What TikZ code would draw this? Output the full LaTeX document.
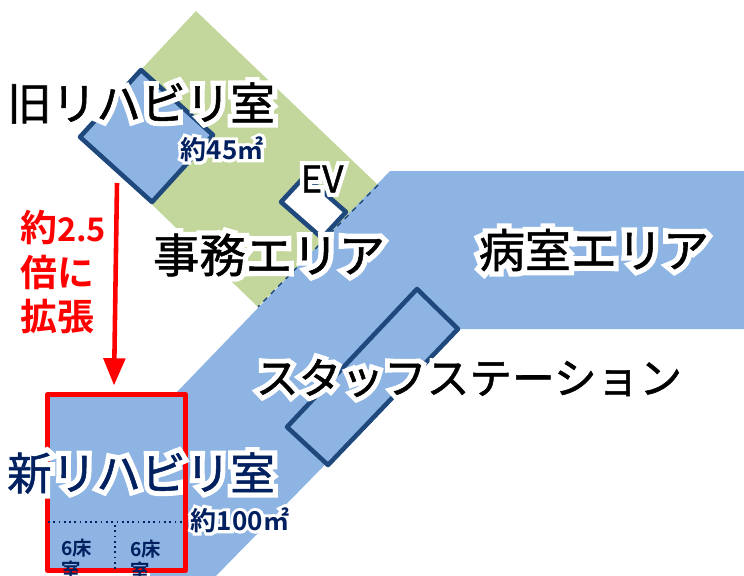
\documentclass[tikz,border=0pt]{standalone}
\usepackage{fontspec}
\usepackage{xcolor}
\usetikzlibrary{arrows}
\setmainfont{Noto Sans CJK JP}
\newfontfamily\labelface[FakeBold=1.2]{Noto Sans CJK JP}
\newfontfamily\haloface[FakeBold=24]{Noto Sans CJK JP}
\newfontfamily\halobold[FakeBold=24]{Noto Sans CJK JP Bold}
\newfontfamily\boldface{Noto Sans CJK JP Bold}
\definecolor{wardblue}{HTML}{8EB4E3}
\definecolor{officegreen}{HTML}{C3D69B}
\definecolor{wallblue}{HTML}{1F497D}
\definecolor{labelnavy}{HTML}{002060}
\newcommand{\halotext}[1]{\rlap{\color{white}\haloface #1}{\labelface #1}}
\newcommand{\halosmall}[1]{\rlap{\color{white}\halobold #1}{\boldface #1}}
\tikzset{
  biglabel/.style = {inner sep = 0pt, font = \fontsize{25.4}{31}\selectfont},
  arealabel/.style = {inner sep = 0pt, text = labelnavy, font = \fontsize{14.8}{18}\selectfont},
  bedlabel/.style = {inner sep = 0pt, text = labelnavy, align = left, font = \boldface\fontsize{11}{12.5}\selectfont},
  wall/.style = {draw = wallblue, line width = 2.6pt, line join = round},
  partition/.style = {draw = labelnavy, line width = 1pt, dotted}
}

\begin{document}
\begin{tikzpicture}[x = 0.02cm, y = -0.02cm]
\clip (0, 0) rectangle (744, 575) ;
\fill[officegreen] (196, 11) -- (378, 185) -- (258, 307) -- (80, 135) -- cycle ;
\fill[wardblue] (390, 171) -- (744, 171) -- (744, 329) -- (458, 329) -- (212, 580) -- (150, 580) -- (150, 420) -- cycle ;
\draw[wallblue, line width = 0.8pt, dashed] (378, 185) -- (258, 307) ;
\draw[wall, fill = wardblue] (141, 70) -- (213, 135) -- (152, 202) -- (80, 137) -- cycle ;
\draw[wall, fill = white] (305, 176) -- (346, 212) -- (322, 238) -- (281, 202) -- cycle ;
\draw[wall] (417, 289) -- (458, 329) -- (328, 465) -- (287, 427) -- cycle ;
\draw[red, fill = wardblue, line width = 2.8pt, line join = round] (47.5, 394.5) rectangle (185.5, 570.5) ;
\coordinate(roomtop) at (48, 522) ;
\coordinate(roomright) at (184, 522) ;
\coordinate(bedtop) at (115, 525) ;
\coordinate(bedbottom) at (115, 569) ;
\draw[partition] (roomtop) -- (roomright) ;
\draw[partition] (bedtop) -- (bedbottom) ;
\coordinate(movestart) at (117, 183) ;
\coordinate(moveend) at (114, 385) ;
\draw[-triangle 45, red, line width = 2.6pt] (movestart) to (moveend) ;
\node(oldroom) at (141, 103) [biglabel] {\halotext{旧リハビリ室}} ;
\node(oldarea) at (222, 149) [arealabel] {\halosmall{約45㎡}} ;
\node(ev) at (322, 179) [biglabel, font = \fontsize{21}{25}\selectfont] {\halotext{EV}} ;
\node(office) at (269, 255) [biglabel, font = \fontsize{26.4}{31}\selectfont] {\halotext{事務エリア}} ;
\node(ward) at (594, 250) [biglabel, font = \fontsize{26.2}{31}\selectfont] {\halotext{病室エリア}} ;
\node(station) at (469, 378) [biglabel, font = \fontsize{24.3}{29}\selectfont] {\halotext{スタッフステーション}} ;
\node(newroom) at (141, 473) [biglabel, text = labelnavy] {\halotext{新リハビリ室}} ;
\node(newarea) at (240, 520) [arealabel] {\halosmall{約100㎡}} ;
\node(ratio) at (20, 272) [anchor = west, inner sep = 0pt, text = red, align = left, font = \boldface\fontsize{21}{25.5}\selectfont] {約{\fontsize{18.5}{25.5}\selectfont 2.5}\\倍に\\拡張} ;
\node(bedleft) at (61, 559) [bedlabel, anchor = west] {6床\\室} ;
\node(bedright) at (130, 560) [bedlabel, anchor = west] {6床\\室} ;
\end{tikzpicture}
\end{document}
